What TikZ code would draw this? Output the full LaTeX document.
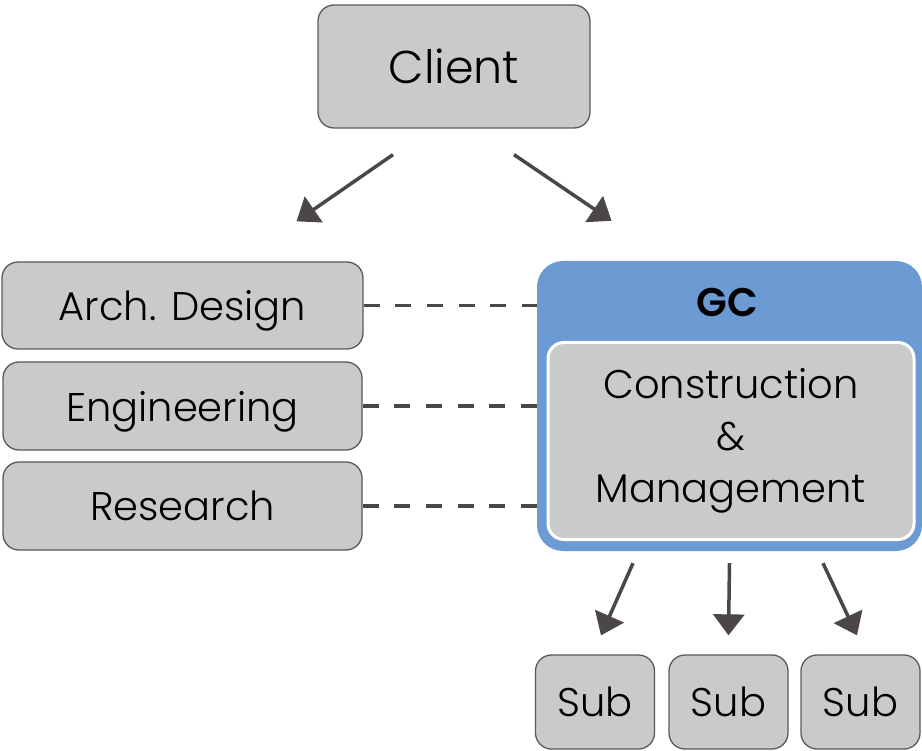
\documentclass[tikz,border=0pt]{standalone}
\usepackage{fontspec}
\setmainfont{Poppins Light}[BoldFont={Poppins SemiBold}]
\usepackage{xcolor}
\usepackage{tikz}
\usetikzlibrary{arrows.meta, positioning}
\definecolor{boxgray}{HTML}{C9CACA}
\definecolor{edgegray}{HTML}{5A5A5A}
\definecolor{arrowgray}{HTML}{4A4746}
\definecolor{gcblue}{HTML}{6B9BD2}
\tikzset{
    box/.style={rectangle, rounded corners=16pt, draw=edgegray, line width=1.3pt, fill=boxgray, inner sep=0pt, text centered, font=\fontsize{40}{48}\selectfont},
    block/.style={box, text depth=0pt},
    subblock/.style={block, minimum width=119pt, minimum height=94pt},
    arrow/.style={-{Triangle[length=21pt, width=31pt]}, line width=3.5pt, draw=arrowgray},
    link/.style={dash pattern=on 16pt off 15.7pt, line width=3.5pt, draw=arrowgray},
}

\begin{document}
\begin{tikzpicture}[x=1pt, y=-1pt]
    \useasboundingbox (0,0) rectangle (922,751);

    % Nodes
    \node[block, minimum width=272pt, minimum height=123pt, font=\fontsize{46}{54}\selectfont] (client) at (454,66.5) {Client};
    \node[block, minimum width=361pt, minimum height=87pt] (arch) at (182.5,305.5) {Arch. Design};
    \node[block, minimum width=359pt, minimum height=88pt] (eng) at (182.5,406) {Engineering};
    \node[block, minimum width=359pt, minimum height=88pt] (res) at (182.5,506) {Research};
    \node[rectangle, rounded corners=26pt, fill=gcblue, minimum width=385pt, minimum height=290pt] (gc) at (729.5,406) {};
    \node[font=\fontsize{40}{46}\selectfont\bfseries] (gclabel) at (727,302) {GC};
    \node[box, draw=white, line width=3pt, minimum width=366pt, minimum height=197pt, align=center] (cm) at (731,441) {Construction\\[4pt]\&\\[4pt]Management};
    \node[subblock] (sub1) at (595,702) {Sub};
    \node[subblock] (sub2) at (728.5,702) {Sub};
    \node[subblock] (sub3) at (860.5,702) {Sub};

    % Arrows
    \draw[arrow] ([xshift=-61pt, yshift=-26pt]client.south) -- ([xshift=114pt, yshift=40pt]arch.north);
    \draw[arrow] ([xshift=60pt, yshift=-26pt]client.south) -- ([xshift=-118pt, yshift=40pt]gc.north);
    \draw[arrow] ([xshift=-96.5pt, yshift=-12pt]gc.south) -- ([xshift=6pt, yshift=19pt]sub1.north);
    \draw[arrow] ([yshift=-12pt]gc.south) -- ([yshift=19pt]sub2.north);
    \draw[arrow] ([xshift=93.5pt, yshift=-12pt]gc.south) -- ([xshift=-3.5pt, yshift=19pt]sub3.north);

    % Dashed links
    \draw[link] (arch.east) -- (arch.east -| gc.west);
    \draw[link] (eng.east) -- (eng.east -| gc.west);
    \draw[link] (res.east) -- (res.east -| gc.west);

\end{tikzpicture}
\end{document}
